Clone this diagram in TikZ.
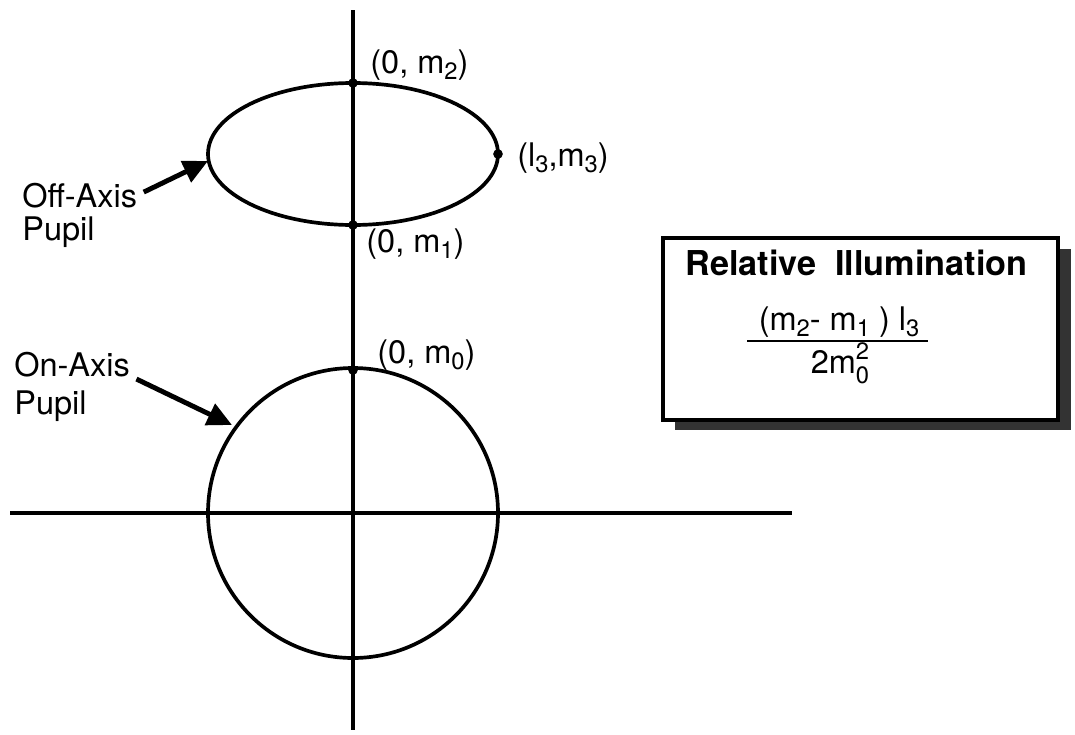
\documentclass[tikz,border=0pt]{standalone}
\usepackage{fontspec}
\setmainfont{TeX Gyre Heros}
\usetikzlibrary{arrows.meta}

% lowered index and stacked index pair, as set in the drawing
\newcommand{\lowsub}[1]{\raisebox{-0.2em}{\fontsize{13.5}{13.5}\selectfont #1}}
\newcommand{\supsub}[2]{\rlap{\raisebox{0.42em}{\fontsize{13.5}{13.5}\selectfont #1}}\raisebox{-0.32em}{\fontsize{13.5}{13.5}\selectfont #2}}

\begin{document}
\begin{tikzpicture}[x=0.02cm, y=-0.02cm,
  every node/.style={inner sep=0pt, font=\fontsize{18.5}{20}\selectfont},
  axis/.style={line width=2pt},
  pupil/.style={line width=2.1pt},
  pointer/.style={line width=2.8pt, -{Triangle[length=14pt, width=13pt]}},
  dot/.style={circle, fill, minimum size=5.5pt, inner sep=0pt}]
  \useasboundingbox (0,0) rectangle (1075,734);

  % Axes
  \draw[axis] (353,10) -- (353,730);
  \draw[axis] (10,513) -- (792,513);

  % Pupils
  \draw[pupil] (353,513) circle[radius=145];
  \draw[pupil] (353,154) ellipse[x radius=145, y radius=71];

  % Marked points
  \node[dot] (p2) at (353,83) {};
  \node[dot] (p1) at (353,225) {};
  \node[dot] (p3) at (498,154) {};
  \node[dot] (p0) at (353,370) {};

  \node[anchor=base west] (lab2) at (370,73) {(0, m\lowsub{2})};
  \node[anchor=base west] (lab3) at (517,166) {(l\lowsub{3},m\lowsub{3})};
  \node[anchor=base west] (lab1) at (366,252) {(0, m\lowsub{1})};
  \node[anchor=base west] (lab0) at (377,363) {(0, m\lowsub{0})};

  % Pupil callouts
  \node[anchor=base west] (offaxis) at (22,207) {Off-Axis};
  \node[anchor=base west] (offpupil) at (22,240) {Pupil};
  \node[anchor=base west] (onaxis) at (14,376) {On-Axis};
  \node[anchor=base west] (onpupil) at (14,414) {Pupil};
  \coordinate (offtip) at (208,161);
  \coordinate (ontip) at (232,425);
  \draw[pointer, shorten <=4pt] (offaxis.east) -- (offtip);
  \draw[pointer, shorten <=4pt] (onaxis.base east) -- (ontip);

  % Relative illumination box
  \fill[black!80] (675,249) rectangle (1071,430);
  \draw[line width=1.8pt, fill=white] (663,238) rectangle (1058,420);
  \node[anchor=base west, font=\fontsize{19.5}{22}\selectfont\bfseries] (title) at (685,275) {Relative\ \ Illumination};
  \node[anchor=base] (num) at (839,330) {(m\lowsub{2}- m\lowsub{1} ) l\lowsub{3}};
  \draw[line width=1.5pt] (747,341) -- (928,341);
  \node[anchor=base] (den) at (840,373) {2m\supsub{2}{0}};

\end{tikzpicture}
\end{document}
